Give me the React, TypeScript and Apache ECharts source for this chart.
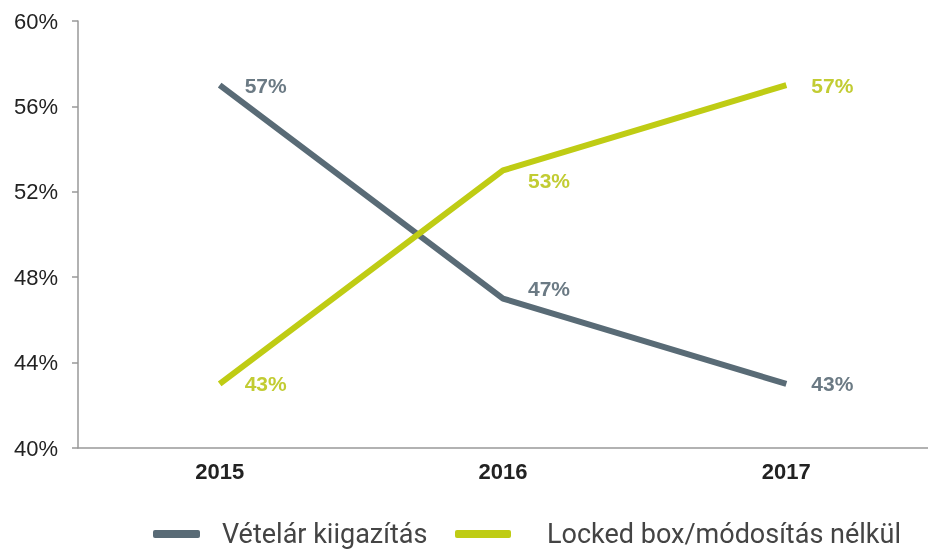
import React, { useEffect, useRef } from "react";
import * as echarts from "echarts";

const years = ["2015", "2016", "2017"];
const vetelar = [57, 47, 43];
const lockedBox = [43, 53, 57];
const seriesNames = ["Vételár kiigazítás", "Locked box/módosítás nélkül"];
const vetelarLabelOffsets = [[0, 0], [0, -10], [0, 0]];
const lockedLabelOffsets = [[0, 0], [0, 10], [0, 0]];

const GRAY = "#596b76";
const GREEN = "#bfcc14";

export default function App() {
  const ref = useRef<HTMLDivElement>(null);
  useEffect(() => {
    if (!ref.current) return;
    const chart = echarts.init(ref.current, null, { renderer: "svg" });
    const mk = (vals: number[], offs: number[][]) =>
      vals.map((v, i) => ({ value: v, label: { offset: offs[i] } }));
    const labelBase = {
      show: true,
      position: "right",
      distance: 25,
      formatter: "{c}%",
      fontFamily: "Liberation Sans",
      fontSize: 21,
      fontWeight: "bold",
    };
    const legendBase = {
      top: 520,
      padding: 0,
      itemHeight: 8,
      icon: "roundRect",
      textStyle: {
        fontFamily: "Roboto",
        fontSize: 27,
        lineHeight: 28,
        color: "#444",
        padding: [0, 0, 0, 17],
      },
    };
    chart.setOption({
      animation: false,
      grid: { left: 78, right: 0, top: 21, bottom: 102 },
      legend: [
        { ...legendBase, left: 153, itemWidth: 47, data: [seriesNames[0]] },
        {
          ...legendBase,
          left: 455,
          itemWidth: 56,
          textStyle: { ...legendBase.textStyle, padding: [0, 0, 0, 31] },
          data: [seriesNames[1]],
        },
      ],
      xAxis: {
        type: "category",
        data: years,
        boundaryGap: true,
        axisTick: { show: false },
        axisLine: { lineStyle: { color: "#999", width: 1.5 } },
        axisLabel: {
          margin: 12,
          fontFamily: "Liberation Sans",
          fontSize: 22,
          fontWeight: "bold",
          color: "#222",
        },
      },
      yAxis: {
        type: "value",
        min: 40,
        max: 60,
        interval: 4,
        splitLine: { show: false },
        axisLine: { show: true, lineStyle: { color: "#999", width: 1.5 } },
        axisTick: { show: true, length: 6, lineStyle: { color: "#999", width: 1.5 } },
        axisLabel: {
          margin: 20,
          formatter: "{value}%",
          fontFamily: "Liberation Sans",
          fontSize: 22,
          color: "#222",
        },
      },
      series: [
        {
          name: seriesNames[0],
          type: "line",
          data: mk(vetelar, vetelarLabelOffsets),
          symbol: "circle",
          symbolSize: 0,
          showSymbol: true,
          color: GRAY,
          lineStyle: { width: 6, color: GRAY },
          label: { ...labelBase, color: "#6b7a84" },
        },
        {
          name: seriesNames[1],
          type: "line",
          data: mk(lockedBox, lockedLabelOffsets),
          symbol: "circle",
          symbolSize: 0,
          showSymbol: true,
          color: GREEN,
          lineStyle: { width: 6, color: GREEN },
          label: { ...labelBase, color: "#c2cc33" },
        },
      ],
    });
    return () => chart.dispose();
  }, []);
  return (
    <div
      ref={ref}
      style={{ position: "fixed", left: 0, top: 0, width: 928, height: 550 }}
    />
  );
}
